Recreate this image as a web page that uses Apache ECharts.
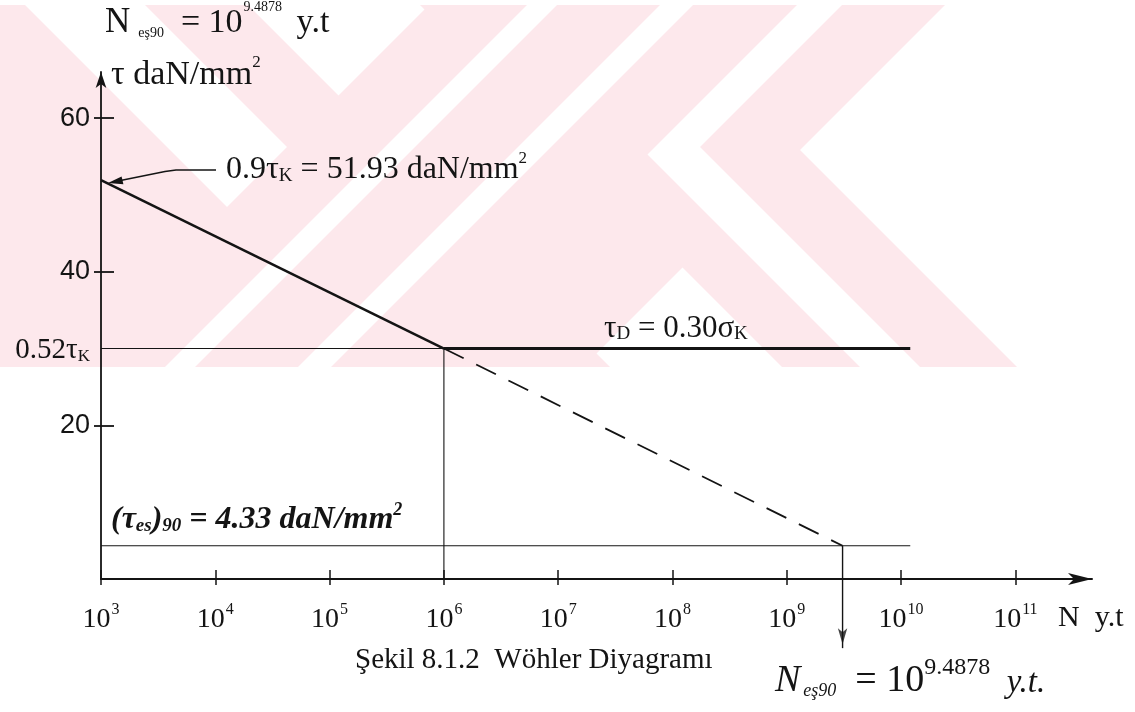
<!DOCTYPE html>
<html><head><meta charset="utf-8">
<script src="https://cdn.jsdelivr.net/npm/echarts@6/dist/echarts.min.js"></script>
<style>html,body{margin:0;padding:0;background:#fff}#c{width:1135px;height:712px}</style>
</head><body><div id="c"></div>
<script>
// x values are log10(N), y values are tau in daN/mm2
const xTickExps = [3, 4, 5, 6, 7, 8, 9, 10, 11];
const yTickValues = [20, 40, 60];
const yLabelValues = [20, 30, 40, 60];
const snLine = [[3, 51.93], [6, 30.0]];
const enduranceLine = [[6, 30.0], [10.08, 30.0]];
const refLine052 = [[3, 30.0], [6, 30.0]];
const kneeDrop = [[6, 30.0], [6, 0]];
const extrapolated = [[6, 30.0], [9.4878, 4.33]];
const tauEs90Line = [[3, 4.33], [10.08, 4.33]];
const nEs90Arrow = [[9.4878, 4.33], [9.4878, -9.0]];
const nEs90Tip = [[9.4878, -9.0]];

const SERIF = "'Liberation Serif', 'DejaVu Serif', serif";
const SANS = "'Liberation Sans', Arial, sans-serif";
const INK = '#141414';
const PINK = '#fde8ec';

// background watermark (page decoration, pixel space)
const WM_TOP = 5, WM_BOTTOM = 367;
const pinkBackSlash = [[-420, 20], [140, 243], [415, 650]];   // ranges of x - y
const pinkSlash = [[434, 950]];                               // ranges of x + y
const whiteSlash = [[532, 562], [665, 698]];                  // ranges of x + y
function bsPoly(a, b) { return [[a + WM_TOP, WM_TOP], [b + WM_TOP, WM_TOP], [b + WM_BOTTOM, WM_BOTTOM], [a + WM_BOTTOM, WM_BOTTOM]]; }
function sPoly(a, b) { return [[a - WM_TOP, WM_TOP], [b - WM_TOP, WM_TOP], [b - WM_BOTTOM, WM_BOTTOM], [a - WM_BOTTOM, WM_BOTTOM]]; }
function watermark() {
  const els = [];
  const poly = (pts, fill, z) => els.push({type: 'polygon', silent: true, z: z, shape: {points: pts}, style: {fill: fill}});
  pinkBackSlash.forEach(([a, b]) => poly(bsPoly(a, b), PINK, -10));
  pinkSlash.forEach(([a, b]) => poly(sPoly(a, b), PINK, -10));
  whiteSlash.forEach(([a, b]) => poly(sPoly(a, b), '#ffffff', -9));
  // white chevron stripe: upper arm x+y in [802,847], lower arm x-y in [493,553]
  const s1 = 802, s2 = 847, d1 = 493, d2 = 553;
  poly([[s1 - WM_TOP, WM_TOP], [s2 - WM_TOP, WM_TOP], [(s2 + d2) / 2, (s2 - d2) / 2],
        [d2 + WM_BOTTOM, WM_BOTTOM], [d1 + WM_BOTTOM, WM_BOTTOM], [(s1 + d1) / 2, (s1 - d1) / 2]], '#ffffff', -9);
  return els;
}

const chart = echarts.init(document.getElementById('c'), null, {renderer: 'canvas'});

function lineSeries(data, width, type) {
  return {
    type: 'line', data: data, symbol: 'none', clip: false, silent: true,
    xAxisIndex: 0, yAxisIndex: 0,
    lineStyle: {color: INK, width: width, type: type || 'solid'},
    z: 5
  };
}

const option = {
  animation: false,
  backgroundColor: '#ffffff',
  grid: {left: 101, right: 43, top: 72, bottom: 133, containLabel: false},
  xAxis: [{
    type: 'value', min: 3, max: 11.67, position: 'bottom',
    axisLine: {onZero: false, lineStyle: {color: INK, width: 2}, symbol: ['none', 'arrow'], symbolSize: [9, 24]},
    axisTick: {show: true, inside: true, length: 9, customValues: xTickExps, lineStyle: {color: INK, width: 1.5}},
    axisLabel: {
      customValues: xTickExps, margin: 23,
      formatter: v => '{b|10}{s|' + v + '}',
      rich: {
        b: {fontFamily: SERIF, fontSize: 28, color: INK, lineHeight: 32, verticalAlign: 'bottom'},
        s: {fontFamily: SERIF, fontSize: 16, color: INK, lineHeight: 16, verticalAlign: 'top', padding: [0, 0, 0, 1]}
      }
    },
    splitLine: {show: false}
  }, {
    type: 'value', min: 3, max: 11.67, position: 'bottom',
    axisLine: {show: false, onZero: false},
    axisTick: {show: true, inside: false, length: 6, customValues: xTickExps, lineStyle: {color: INK, width: 1.5}},
    axisLabel: {show: false},
    splitLine: {show: false}
  }],
  yAxis: [{
    type: 'value', min: 0, max: 66, position: 'left',
    axisLine: {onZero: false, lineStyle: {color: INK, width: 1.8}, symbol: ['none', 'arrow'], symbolSize: [8, 16]},
    axisTick: {show: true, inside: true, length: 13, customValues: yTickValues, lineStyle: {color: INK, width: 1.8}},
    axisLabel: {
      customValues: yLabelValues, margin: 11,
      formatter: v => v === 30 ? '{t|0.52τ}{k|K}' : '{n|' + v + '}',
      rich: {
        n: {fontFamily: SANS, fontSize: 27, color: INK},
        t: {fontFamily: SERIF, fontSize: 29, color: INK, lineHeight: 32, verticalAlign: 'bottom'},
        k: {fontFamily: SERIF, fontSize: 17, color: INK, lineHeight: 17, verticalAlign: 'bottom'}
      }
    },
    splitLine: {show: false}
  }, {
    type: 'value', min: 0, max: 66, position: 'left',
    axisLine: {show: false, onZero: false},
    axisTick: {show: true, inside: false, length: 7, customValues: yTickValues, lineStyle: {color: INK, width: 1.8}},
    axisLabel: {show: false},
    splitLine: {show: false}
  }],
  series: [
    lineSeries(snLine, 2.6),
    lineSeries(enduranceLine, 3),
    lineSeries(refLine052, 1.1),
    lineSeries(kneeDrop, 1.1),
    lineSeries(extrapolated, 1.8, [22, 14]),
    lineSeries(tauEs90Line, 1.1),
    lineSeries(nEs90Arrow, 1.4),
    {
      type: 'scatter', data: nEs90Tip, symbol: 'arrow', symbolSize: [7, 16], symbolRotate: 180,
      symbolOffset: [0, -4], clip: false, silent: true,
      itemStyle: {color: INK}, z: 6
    }
  ],
  graphic: watermark().concat([
    {type: 'text', left: 105, top: 0, z: 10, style: {
      text: '{N|N}{sub|eş90}{t|  = 10}{sup|9.4878}{t| y.t}',
      rich: {
        N: {fontFamily: SERIF, fontSize: 35, fill: INK, lineHeight: 40, verticalAlign: 'bottom', padding: [0, 8, 0, 0]},
        sub: {fontFamily: SERIF, fontSize: 14, fill: INK, lineHeight: 14, verticalAlign: 'bottom'},
        t: {fontFamily: SERIF, fontSize: 34, fill: INK, lineHeight: 40, verticalAlign: 'bottom'},
        sup: {fontFamily: SERIF, fontSize: 14, fill: INK, lineHeight: 18, verticalAlign: 'top', padding: [0, 6, 0, 1]}
      }}},
    {type: 'text', left: 111, top: 54, z: 10, style: {
      text: '{t|τ daN/mm}{sup|2}',
      rich: {
        t: {fontFamily: SERIF, fontSize: 34, fill: INK, lineHeight: 38, verticalAlign: 'bottom'},
        sup: {fontFamily: SERIF, fontSize: 17, fill: INK, lineHeight: 17, verticalAlign: 'top'}
      }}},
    {type: 'text', left: 226, top: 150, z: 10, style: {
      text: '{t|0.9τ}{k|K}{t| = 51.93 daN/mm}{sup|2}',
      rich: {
        t: {fontFamily: SERIF, fontSize: 32, fill: INK, lineHeight: 36, verticalAlign: 'bottom'},
        k: {fontFamily: SERIF, fontSize: 19, fill: INK, lineHeight: 19, verticalAlign: 'bottom'},
        sup: {fontFamily: SERIF, fontSize: 17, fill: INK, lineHeight: 17, verticalAlign: 'top'}
      }}},
    {type: 'polyline', z: 10, shape: {points: [[216, 170], [176, 170], [165, 171.5], [118, 181]]},
      style: {stroke: INK, lineWidth: 1.6, fill: null}},
    {type: 'polygon', z: 10, shape: {points: [[108, 183], [123.4, 184.2], [121.6, 176.6]]},
      style: {fill: INK}},
    {type: 'text', left: 604, top: 313, z: 10, style: {
      text: '{t|τ}{k|D}{t| = 0.30σ}{k|K}',
      rich: {
        t: {fontFamily: SERIF, fontSize: 31, fill: INK, lineHeight: 34, verticalAlign: 'bottom'},
        k: {fontFamily: SERIF, fontSize: 19, fill: INK, lineHeight: 19, verticalAlign: 'bottom'}
      }}},
    {type: 'text', left: 111, top: 501, z: 10, style: {
      text: '{t|(τ}{k|es}{t|)}{k|90}{t| = 4.33 daN/mm}{sup|2}',
      rich: {
        t: {fontFamily: SERIF, fontSize: 32, fontWeight: 'bold', fontStyle: 'italic', fill: INK, lineHeight: 35, verticalAlign: 'bottom'},
        k: {fontFamily: SERIF, fontSize: 19, fontWeight: 'bold', fontStyle: 'italic', fill: INK, lineHeight: 19, verticalAlign: 'bottom'},
        sup: {fontFamily: SERIF, fontSize: 18, fontWeight: 'bold', fontStyle: 'italic', fill: INK, lineHeight: 18, verticalAlign: 'top'}
      }}},
    {type: 'text', left: 1058, top: 603, z: 10, style: {
      text: 'N  y.t', fontFamily: SERIF, fontSize: 30, fill: INK}},
    {type: 'text', left: 355, top: 646, z: 10, style: {
      text: 'Şekil 8.1.2  Wöhler Diyagramı', fontFamily: SERIF, fontSize: 29, fill: INK}},
    {type: 'text', left: 775, top: 656, z: 10, style: {
      text: '{N|N}{sub|eş90}{t|  = 10}{sup|9.4878}{y|  y.t.}',
      rich: {
        N: {fontFamily: SERIF, fontSize: 38, fontStyle: 'italic', fill: INK, lineHeight: 44, verticalAlign: 'bottom', padding: [0, 3, 0, 0]},
        sub: {fontFamily: SERIF, fontSize: 18, fontStyle: 'italic', fill: INK, lineHeight: 16, verticalAlign: 'bottom'},
        t: {fontFamily: SERIF, fontSize: 38, fill: INK, lineHeight: 44, verticalAlign: 'bottom'},
        sup: {fontFamily: SERIF, fontSize: 24, fill: INK, lineHeight: 26, verticalAlign: 'top'},
        y: {fontFamily: SERIF, fontSize: 33, fontStyle: 'italic', fill: INK, lineHeight: 42, verticalAlign: 'bottom'}
      }}}
  ])
};
chart.setOption(option);
</script>
</body></html>
